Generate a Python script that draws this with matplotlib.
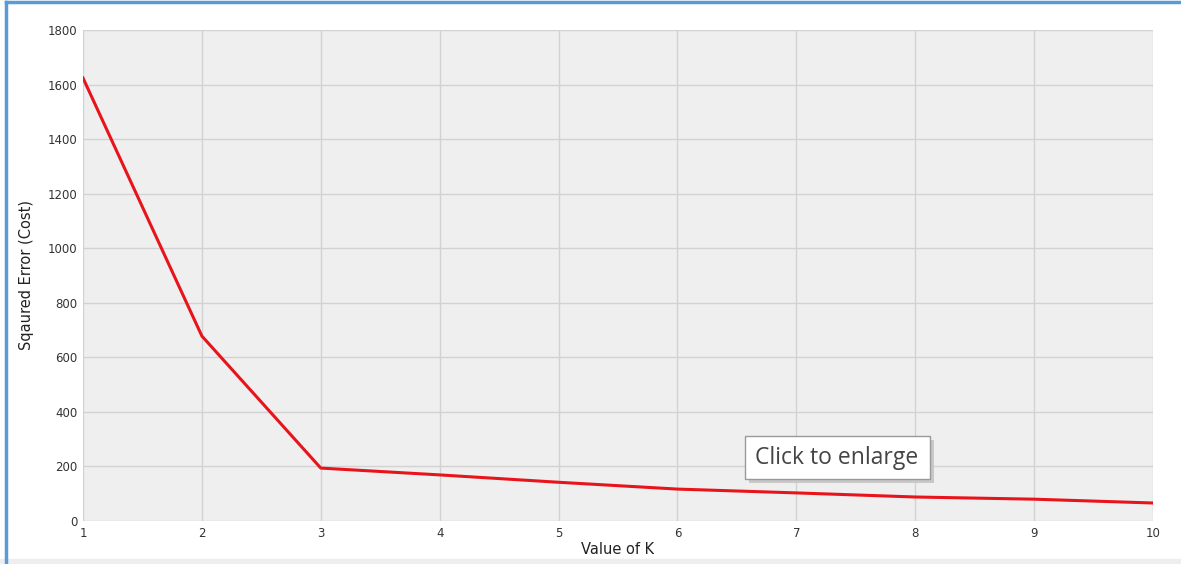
import numpy as np
import matplotlib
matplotlib.use("Agg")
from matplotlib import pyplot as plt
from matplotlib.lines import Line2D
from matplotlib.patches import Rectangle

k_values = [1, 2, 3, 4, 5, 6, 7, 8, 9, 10]
cost = [1624, 678, 194, 169, 142, 117, 103, 88, 80, 66]

fig = plt.figure(figsize=(11.81, 5.64), dpi=100)
fig.patch.set_facecolor("white")
ax = fig.add_axes([83 / 1181, 1 - 521 / 564, (1153 - 83) / 1181, (521 - 30) / 564])
ax.set_facecolor("#efefef")

ax.plot(k_values, cost, color="#e8141b", linewidth=2.2, zorder=3)

ax.set_xlim(1, 10)
ax.set_ylim(0, 1800)
ax.set_xticks(range(1, 11))
ax.set_yticks(range(0, 1801, 200))
ax.grid(True, color="#d2d2d2", linewidth=1)
ax.set_axisbelow(True)
for s in ax.spines.values():
    s.set_visible(False)
ax.tick_params(length=0, labelsize=8.5, colors="#333333")
ax.tick_params(axis="x", pad=4)
ax.tick_params(axis="y", pad=4)
ax.set_xlabel("Value of K", fontsize=10.5, color="#222222", labelpad=2)
ax.set_ylabel("Sqaured Error (Cost)", fontsize=10.5, color="#222222", labelpad=10)

# popup label over the chart (with a soft shadow)
fig.add_artist(Rectangle((749 / 1181, 1 - 483 / 564), 185 / 1181, 43 / 564,
                         transform=fig.transFigure, facecolor="#c8c8c8", edgecolor="none"))
fig.add_artist(Rectangle((745 / 1181, 1 - 479 / 564), 185 / 1181, 43 / 564,
                         transform=fig.transFigure, facecolor="white", edgecolor="#999999", linewidth=1))
fig.text(837 / 1181, 1 - 458 / 564, "Click to enlarge", ha="center", va="center",
         fontsize=16.5, color="#444444", family="Open Sans")

# screenshot frame
fig.add_artist(Line2D([6 / 1181, 6 / 1181], [0, 1 - 2 / 564], color="#5b9bd5", linewidth=2.5))
fig.add_artist(Line2D([6 / 1181, 1], [1 - 2 / 564, 1 - 2 / 564], color="#5b9bd5", linewidth=2.5))
fig.add_artist(Rectangle((0, 0), 1, 5 / 564, transform=fig.transFigure, color="#eeeeee"))

fig.savefig("out.png", dpi=100)
